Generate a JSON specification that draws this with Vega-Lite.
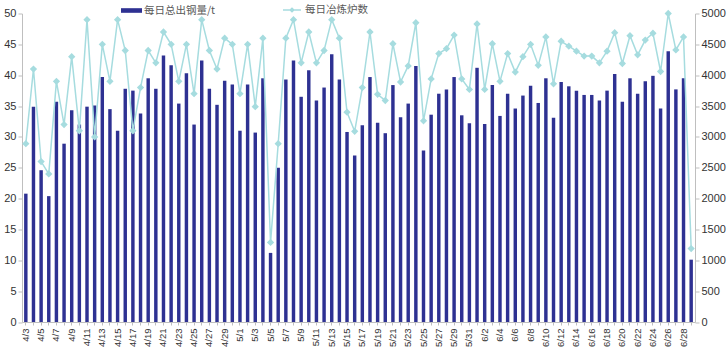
{
  "$schema": "https://vega.github.io/schema/vega-lite/v6.json",
  "autosize": {"type": "none"},
  "width": 673,
  "height": 308.5,
  "padding": {"left": 22, "top": 13.5, "right": 33, "bottom": 32},
  "background": "white",
  "config": {
    "view": {"stroke": null},
    "font": "Liberation Sans",
    "axis": {"labelFont": "Liberation Sans", "labelColor": "#333333", "domainColor": "#BFBFBF", "tickColor": "#BFBFBF", "grid": false, "title": null},
    "legend": {"labelFont": "Noto Sans CJK SC", "labelColor": "#595959", "labelFontSize": 10.5}
  },
  "data": {"values": [
    {"date": "4/3", "steel": 20.8, "furnaces": 2890},
    {"date": "4/4", "steel": 34.9, "furnaces": 4100},
    {"date": "4/5", "steel": 24.6, "furnaces": 2600},
    {"date": "4/6", "steel": 20.4, "furnaces": 2400},
    {"date": "4/7", "steel": 35.7, "furnaces": 3900},
    {"date": "4/8", "steel": 28.9, "furnaces": 3200},
    {"date": "4/9", "steel": 34.3, "furnaces": 4300},
    {"date": "4/10", "steel": 32.0, "furnaces": 3100},
    {"date": "4/11", "steel": 34.9, "furnaces": 4900},
    {"date": "4/12", "steel": 35.1, "furnaces": 3000},
    {"date": "4/13", "steel": 39.7, "furnaces": 4500},
    {"date": "4/14", "steel": 34.5, "furnaces": 3900},
    {"date": "4/15", "steel": 31.0, "furnaces": 4900},
    {"date": "4/16", "steel": 37.8, "furnaces": 4400},
    {"date": "4/17", "steel": 37.5, "furnaces": 3100},
    {"date": "4/18", "steel": 33.8, "furnaces": 3800},
    {"date": "4/19", "steel": 39.5, "furnaces": 4400},
    {"date": "4/20", "steel": 37.8, "furnaces": 4200},
    {"date": "4/21", "steel": 43.2, "furnaces": 4700},
    {"date": "4/22", "steel": 41.6, "furnaces": 4500},
    {"date": "4/23", "steel": 35.4, "furnaces": 3900},
    {"date": "4/24", "steel": 40.3, "furnaces": 4500},
    {"date": "4/25", "steel": 32.0, "furnaces": 3700},
    {"date": "4/26", "steel": 42.4, "furnaces": 4900},
    {"date": "4/27", "steel": 37.8, "furnaces": 4400},
    {"date": "4/28", "steel": 35.2, "furnaces": 4100},
    {"date": "4/29", "steel": 39.1, "furnaces": 4600},
    {"date": "4/30", "steel": 38.5, "furnaces": 4500},
    {"date": "5/1", "steel": 31.0, "furnaces": 3700},
    {"date": "5/2", "steel": 38.5, "furnaces": 4500},
    {"date": "5/3", "steel": 30.7, "furnaces": 3490},
    {"date": "5/4", "steel": 39.5, "furnaces": 4600},
    {"date": "5/5", "steel": 11.2, "furnaces": 1290},
    {"date": "5/6", "steel": 25.0, "furnaces": 2890},
    {"date": "5/7", "steel": 39.3, "furnaces": 4600},
    {"date": "5/8", "steel": 42.4, "furnaces": 4900},
    {"date": "5/9", "steel": 36.5, "furnaces": 4200},
    {"date": "5/10", "steel": 40.8, "furnaces": 4700},
    {"date": "5/11", "steel": 35.9, "furnaces": 4200},
    {"date": "5/12", "steel": 38.0, "furnaces": 4400},
    {"date": "5/13", "steel": 43.4, "furnaces": 4900},
    {"date": "5/14", "steel": 39.3, "furnaces": 4600},
    {"date": "5/15", "steel": 30.8, "furnaces": 3400},
    {"date": "5/16", "steel": 27.0, "furnaces": 3090},
    {"date": "5/17", "steel": 31.9, "furnaces": 3800},
    {"date": "5/18", "steel": 39.7, "furnaces": 4700},
    {"date": "5/19", "steel": 32.3, "furnaces": 3690},
    {"date": "5/20", "steel": 30.6, "furnaces": 3590},
    {"date": "5/21", "steel": 38.4, "furnaces": 4510},
    {"date": "5/22", "steel": 33.2, "furnaces": 3890},
    {"date": "5/23", "steel": 35.4, "furnaces": 4150},
    {"date": "5/24", "steel": 41.5, "furnaces": 4850},
    {"date": "5/25", "steel": 27.8, "furnaces": 3260},
    {"date": "5/26", "steel": 33.6, "furnaces": 3940},
    {"date": "5/27", "steel": 37.0, "furnaces": 4350},
    {"date": "5/28", "steel": 37.7, "furnaces": 4430},
    {"date": "5/29", "steel": 39.7, "furnaces": 4650},
    {"date": "5/30", "steel": 33.5, "furnaces": 3940},
    {"date": "5/31", "steel": 32.2, "furnaces": 3770},
    {"date": "6/1", "steel": 41.2, "furnaces": 4830},
    {"date": "6/2", "steel": 32.1, "furnaces": 3770},
    {"date": "6/3", "steel": 38.4, "furnaces": 4510},
    {"date": "6/4", "steel": 33.4, "furnaces": 3900},
    {"date": "6/5", "steel": 37.0, "furnaces": 4350},
    {"date": "6/6", "steel": 34.6, "furnaces": 4050},
    {"date": "6/7", "steel": 36.7, "furnaces": 4300},
    {"date": "6/8", "steel": 38.3, "furnaces": 4500},
    {"date": "6/9", "steel": 35.5, "furnaces": 4160},
    {"date": "6/10", "steel": 39.5, "furnaces": 4620},
    {"date": "6/11", "steel": 33.1, "furnaces": 3860},
    {"date": "6/12", "steel": 38.9, "furnaces": 4550},
    {"date": "6/13", "steel": 38.2, "furnaces": 4470},
    {"date": "6/14", "steel": 37.5, "furnaces": 4390},
    {"date": "6/15", "steel": 36.8, "furnaces": 4310},
    {"date": "6/16", "steel": 36.8, "furnaces": 4310},
    {"date": "6/17", "steel": 35.9, "furnaces": 4200},
    {"date": "6/18", "steel": 37.5, "furnaces": 4390},
    {"date": "6/19", "steel": 40.2, "furnaces": 4690},
    {"date": "6/20", "steel": 35.7, "furnaces": 4190},
    {"date": "6/21", "steel": 39.5, "furnaces": 4640},
    {"date": "6/22", "steel": 37.0, "furnaces": 4330},
    {"date": "6/23", "steel": 39.0, "furnaces": 4570},
    {"date": "6/24", "steel": 39.9, "furnaces": 4680},
    {"date": "6/25", "steel": 34.6, "furnaces": 4060},
    {"date": "6/26", "steel": 43.9, "furnaces": 5000},
    {"date": "6/27", "steel": 37.7, "furnaces": 4410},
    {"date": "6/28", "steel": 39.5, "furnaces": 4620},
    {"date": "6/29", "steel": 10.1, "furnaces": 1190}
  ]},
  "encoding": {
    "x": {
      "field": "date", "type": "nominal", "sort": null,
      "scale": {"paddingInner": 0.55, "paddingOuter": 0.275},
      "axis": {
        "labelAngle": -90, "labelFontSize": 9.5, "labelPadding": 3, "tickSize": 3,
        "labelOverlap": false,
        "labelExpr": "round(datum.index * 87) % 2 == 0 ? datum.label : ''"
      }
    }
  },
  "layer": [
    {
      "mark": {"type": "bar"},
      "encoding": {
        "y": {
          "field": "steel", "type": "quantitative",
          "scale": {"domain": [0, 50], "nice": false},
          "axis": {"orient": "left", "values": [0,5,10,15,20,25,30,35,40,45,50], "format": "d", "labelFontSize": 11, "tickSize": 4, "labelPadding": 2}
        },
        "fill": {
          "datum": "每日总出钢量/t",
          "scale": {"range": ["#2E3192"]},
          "legend": {
            "orient": "none", "legendX": 99, "legendY": -13.5, "title": null,
            "symbolType": "M-1,-0.22L1,-0.22L1,0.22L-1,0.22Z", "symbolSize": 441,
            "symbolStrokeWidth": 0, "labelOffset": 2
          }
        }
      }
    },
    {
      "mark": {"type": "line", "strokeWidth": 1.5, "point": {"shape": "diamond", "size": 20, "filled": true, "color": "#A6DCDF"}},
      "encoding": {
        "y": {
          "field": "furnaces", "type": "quantitative",
          "scale": {"domain": [0, 5000], "nice": false},
          "axis": {"orient": "right", "values": [0,500,1000,1500,2000,2500,3000,3500,4000,4500,5000], "format": "d", "labelFontSize": 11, "tickSize": 4, "labelPadding": 2}
        },
        "stroke": {
          "datum": "每日冶炼炉数",
          "scale": {"range": ["#A6DCDF"]},
          "legend": {
            "orient": "none", "legendX": 260, "legendY": -13.5, "title": null,
            "symbolType": "M-1,0L1,0M0,-0.2L0.2,0L0,0.2L-0.2,0Z", "symbolSize": 324,
            "symbolStrokeWidth": 1.5, "symbolFillColor": "#A6DCDF", "labelOffset": 3
          }
        }
      }
    }
  ],
  "resolve": {"scale": {"y": "independent", "fill": "independent", "stroke": "independent"}}
}
